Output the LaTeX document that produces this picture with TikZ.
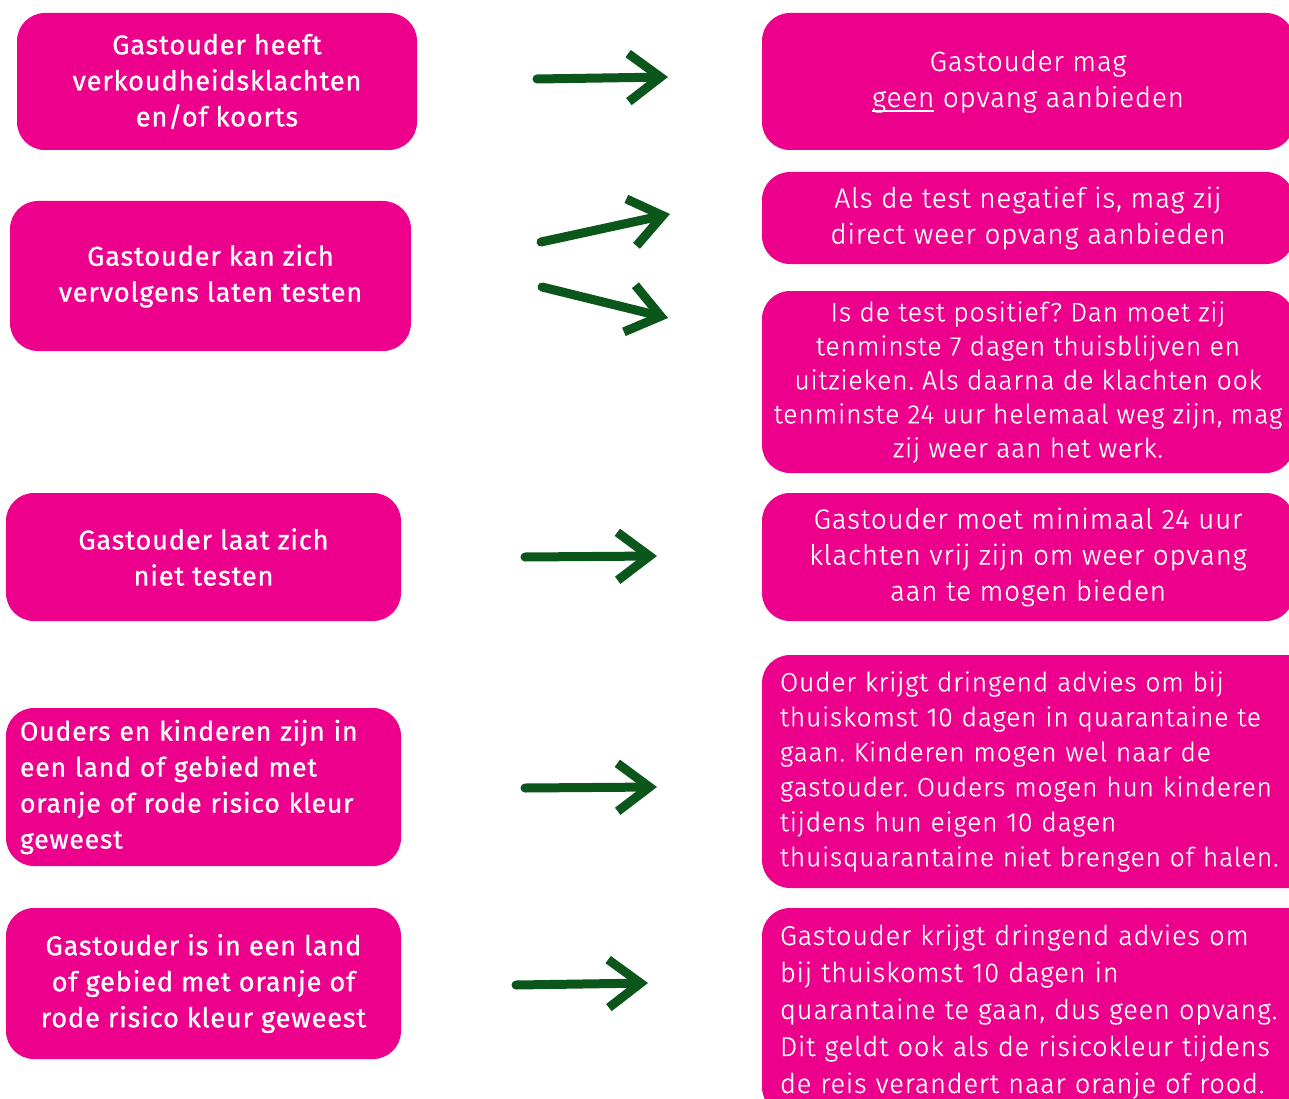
\documentclass[tikz,border=0pt]{standalone}
\usepackage{fontspec}
\setmainfont{Fira Sans}[LetterSpace=3]
\newfontfamily\licht{Fira Sans Light}[LetterSpace=3,FakeBold=0.45]
\usetikzlibrary{arrows.meta}
\definecolor{roze}{HTML}{EC008C}
\definecolor{groen}{HTML}{0B561A}
\newcommand{\ondlijn}[1]{\setbox0\hbox{#1}\rlap{\rule[-5pt]{\wd0}{2pt}}\box0\relax}
\frenchspacing
\begin{document}
\begin{tikzpicture}[x=1pt,y=-1pt]

    \tikzset{
      vak/.style={
        fill=roze,
        rounded corners=28pt,
        text=white,
        align=center,
        inner sep=0pt,
        font=\licht\fontsize{27.8}{36}\selectfont,
      },
      links/.style={
        vak,
        font=\fontsize{27.2}{36}\selectfont\addfontfeature{FakeBold=0.9},
      },
      pijl/.style={
        groen,
        line width=9pt,
        line cap=round,
        -{Straight Barb[length=32pt,width=48pt]},
      },
    }
    \useasboundingbox (0,0) rectangle (1289,1099);
    % linker kolom
    \node[links, minimum width=400pt, minimum height=137pt] (l1) at (217,81.5) {Gastouder heeft\\verkoudheidsklachten\\en/of koorts};
    \node[links, minimum width=401pt, minimum height=150pt] (l2) at (210.5,276) {Gastouder kan zich\\vervolgens laten testen};
    \node[links, minimum width=395pt, minimum height=128pt] (l3) at (203.5,557) {Gastouder laat zich\\niet testen};
    \node[links, align=left, text width=367pt, inner xsep=14pt, minimum height=158pt, font=\fontsize{26.6}{36}\selectfont\addfontfeature{FakeBold=0.9}] (l4) at (203.5,787) {Ouders en kinderen zijn in\\een land of gebied met\\oranje of rode risico kleur\\geweest};
    \node[links, minimum width=395pt, minimum height=151pt] (l5) at (203.5,983.5) {Gastouder is in een land\\of gebied met oranje of\\rode risico kleur geweest};
    % rechter kolom
    \node[vak, minimum width=532pt, minimum height=137pt] (r1) at (1028,81.5) {Gastouder mag\\\ondlijn{geen} opvang aanbieden};
    \node[vak, minimum width=532pt, minimum height=92pt] (r2) at (1028,218) {Als de test negatief is, mag zij\\direct weer opvang aanbieden};
    \node[vak, minimum width=532pt, minimum height=182pt, font=\licht\fontsize{26.6}{34}\selectfont] (r3) at (1028,382) {Is de test positief? Dan moet zij\\tenminste 7 dagen thuisblijven en\\uitzieken. Als daarna de klachten ook\\tenminste 24 uur helemaal weg zijn, mag\\zij weer aan het werk.};
    \node[vak, minimum width=532pt, minimum height=128pt] (r4) at (1028,557) {Gastouder moet minimaal 24 uur\\klachten vrij zijn om weer opvang\\aan te mogen bieden};
    \node[vak, align=left, text width=520pt, inner xsep=18pt, minimum height=233pt, font=\licht\fontsize{26.4}{35}\selectfont] (r5) at (1040,771.5) {Ouder krijgt dringend advies om bij\\thuiskomst 10 dagen in quarantaine te\\gaan. Kinderen mogen wel naar de\\gastouder. Ouders mogen hun kinderen\\tijdens hun eigen 10 dagen\\thuisquarantaine niet brengen of halen.};
    \node[vak, align=left, text width=520pt, inner xsep=18pt, minimum height=207pt, font=\licht\fontsize{27.2}{37}\selectfont] (r6) at (1040,1011.5) {Gastouder krijgt dringend advies om\\bij thuiskomst 10 dagen in\\quarantaine te gaan, dus geen opvang.\\Dit geldt ook als de risicokleur tijdens\\de reis verandert naar oranje of rood.};
    % pijlen
    \coordinate (p1a) at (537,79);  \coordinate (p1b) at (668,77);
    \coordinate (p2a) at (541,242); \coordinate (p2b) at (670,214);
    \coordinate (p3a) at (542,287); \coordinate (p3b) at (668,318);
    \coordinate (p4a) at (525,557); \coordinate (p4b) at (657,556);
    \coordinate (p5a) at (525,788); \coordinate (p5b) at (657,787);
    \coordinate (p6a) at (516,985); \coordinate (p6b) at (648,983);
    \foreach \i in {1,...,6}
      \draw[pijl] (p\i a) -- (p\i b);

\end{tikzpicture}
\end{document}
